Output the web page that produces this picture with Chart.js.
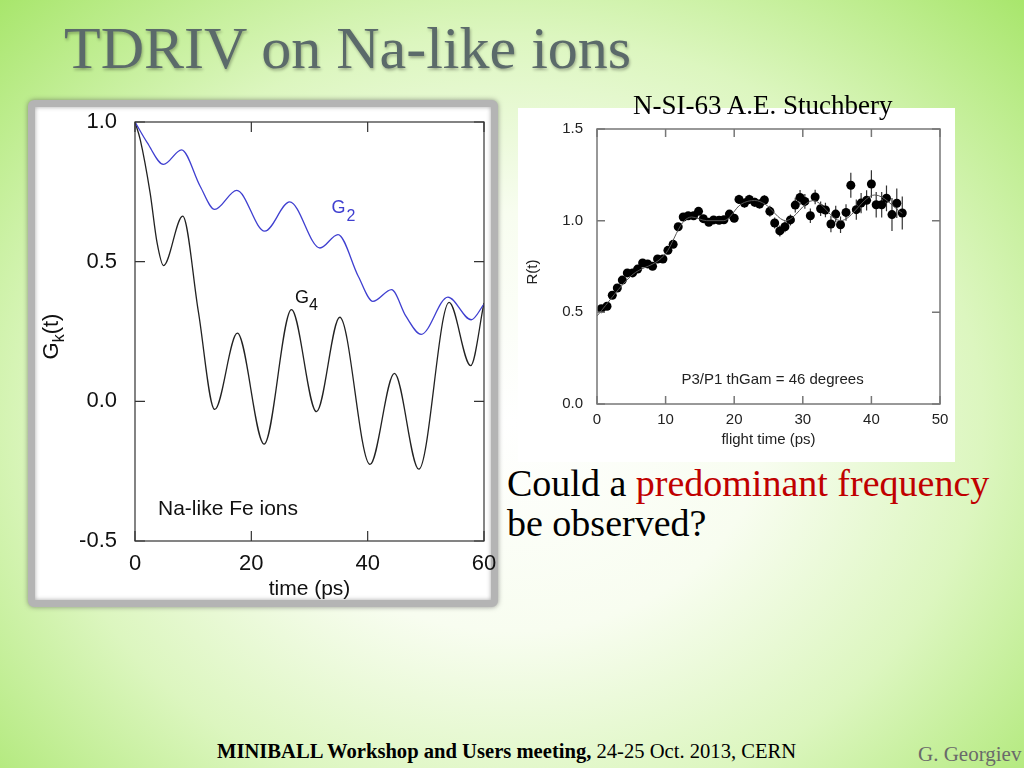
<!DOCTYPE html>
<html>
<head>
<meta charset="utf-8">
<script src="https://cdn.jsdelivr.net/npm/chart.js@4.4.1/dist/chart.umd.min.js"></script>
<style>
  html, body { margin: 0; padding: 0; }
  body {
    width: 1024px; height: 768px; position: relative; overflow: hidden;
    background: radial-gradient(ellipse farthest-corner at 50% 55%, #ffffff 0%, #f8fdf0 35%, #dcf6bf 65%, #a8e66c 100%);
    font-family: 'Liberation Serif', 'Times New Roman', serif;
  }
  .abs { position: absolute; white-space: nowrap; }
  #title { left: 64px; top: 13px; font-size: 60px; color: #5b6a6a; text-shadow: 1px 2px 3px rgba(0,0,0,0.3); line-height: 70px; }
  #leftBox { left: 28px; top: 100px; width: 456px; height: 493px; background: #fff; border: 7px solid #b4b4b4; border-radius: 6px; box-shadow: 0 0 5px rgba(80,80,80,0.6), inset 0 0 4px rgba(80,80,80,0.5); }
  #rightBox { left: 518px; top: 108px; width: 437px; height: 354px; background: #fff; }
  #cvL { left: 30px; top: 102px; }
  #cvR { left: 518px; top: 108px; }
  #ref { left: 633px; top: 90px; font-size: 27px; color: #000; line-height: 30px; }
  #q { left: 507px; top: 463px; font-size: 38px; color: #000; line-height: 40px; }
  #q span { color: #c00000; }
  #foot { left: 217px; top: 739px; font-size: 20.6px; color: #000; line-height: 24px; }
  #auth { left: 918px; top: 742px; font-size: 21px; color: #6a6a6a; line-height: 24px; }
</style>
</head>
<body>
<div id="title" class="abs">TDRIV on Na-like ions</div>
<div id="leftBox" class="abs"></div>
<div id="rightBox" class="abs"></div>
<canvas id="cvL" class="abs" width="470" height="500"></canvas>
<canvas id="cvR" class="abs" width="437" height="354"></canvas>
<div id="ref" class="abs">N-SI-63 A.E. Stuchbery</div>
<div id="q" class="abs">Could a <span>predominant frequency</span><br>be observed?</div>
<div id="foot" class="abs"><b>MINIBALL Workshop and Users meeting,</b> 24-25 Oct. 2013, CERN</div>
<div id="auth" class="abs">G. Georgiev</div>

<script>
// ---------- Left chart data: Gk(t) ----------
const g2Times = [0, 2.1, 4.9, 8.0, 11.2, 13.7, 17.5, 22.3, 26.6, 31.8, 34.9, 38.4, 40.9, 44.1, 46.6, 49.2, 53.8, 57.8, 60];
const g2Values = [1.0, 0.926, 0.848, 0.900, 0.770, 0.687, 0.755, 0.609, 0.714, 0.549, 0.597, 0.447, 0.358, 0.400, 0.304, 0.240, 0.373, 0.292, 0.348];
const g4Times = [0, 0.9, 2.6, 3.8, 4.9, 8.2, 10.9, 13.7, 17.6, 22.2, 26.9, 31.2, 35.2, 40.4, 44.6, 48.8, 54.0, 57.7, 60];
const g4Values = [1.0, 0.937, 0.746, 0.567, 0.486, 0.663, 0.320, -0.029, 0.244, -0.153, 0.328, -0.037, 0.301, -0.226, 0.100, -0.243, 0.354, 0.128, 0.352];
const leftXTicks = [0, 20, 40, 60];
const leftYTicks = [-0.5, 0.0, 0.5, 1.0];

// ---------- Right chart data: R(t) ----------
const rTimes = [0.63, 1.46, 2.23, 2.96, 3.69, 4.42, 5.19, 5.92, 6.65, 7.38, 8.1, 8.83, 9.61, 10.34, 11.1,
  11.84, 12.57, 13.3, 14.08, 14.8, 15.5, 16.3, 17.0, 17.8, 18.5, 19.3, 20.0, 20.7, 21.5, 22.2,
  23.0, 23.7, 24.4, 25.2, 25.9, 26.65, 27.4, 28.2, 28.9, 29.6, 30.3, 31.1, 31.8, 32.6, 33.3,
  34.1, 34.8, 35.5, 36.3, 37.0, 37.8, 38.5, 39.3, 40.0, 40.7, 41.5, 42.2, 43.0, 43.7, 44.5];
const rValues = [0.52, 0.533, 0.593, 0.633, 0.676, 0.715, 0.715, 0.736, 0.769, 0.764, 0.751, 0.791, 0.791, 0.838, 0.871,
  0.967, 1.02, 1.027, 1.027, 1.051, 1.011, 0.991, 1.004, 1.002, 1.005, 1.036, 1.013, 1.116, 1.096, 1.116,
  1.10, 1.091, 1.113, 1.051, 0.987, 0.944, 0.967, 1.004, 1.085, 1.127, 1.105, 1.027, 1.129, 1.065, 1.058,
  0.982, 1.036, 0.978, 1.045, 1.193, 1.06, 1.096, 1.111, 1.20, 1.087, 1.087, 1.122, 1.033, 1.095, 1.042];
const rErrors = [0.012, 0.012, 0.012, 0.012, 0.012, 0.012, 0.012, 0.012, 0.012, 0.012, 0.012, 0.012, 0.012, 0.012, 0.012,
  0.018, 0.018, 0.018, 0.018, 0.018, 0.02, 0.02, 0.02, 0.02, 0.02, 0.02, 0.02, 0.025, 0.025, 0.025,
  0.025, 0.025, 0.025, 0.03, 0.03, 0.03, 0.03, 0.03, 0.04, 0.04, 0.04, 0.04, 0.04, 0.04, 0.04,
  0.045, 0.045, 0.045, 0.045, 0.068, 0.055, 0.055, 0.055, 0.075, 0.07, 0.07, 0.07, 0.09, 0.08, 0.09];
const fitTimes = [0, 5, 10, 12.5, 13.8, 16, 18.5, 21, 23, 24.5, 27.5, 31.5, 35.5, 40.5, 44.5];
const fitValues = [0.48, 0.70, 0.82, 0.99, 1.02, 1.0, 1.0, 1.09, 1.11, 1.09, 1.0, 1.11, 1.0, 1.14, 1.04];
const rightXTicks = [0, 10, 20, 30, 40, 50];
const rightYTicks = [0.0, 0.5, 1.0, 1.5];

const SANS = "'Liberation Sans', Arial, Helvetica, sans-serif";
Chart.defaults.font.family = SANS;
Chart.defaults.animation = false;

function pairs(xs, ys) { return xs.map((x, i) => ({ x: x, y: ys[i] })); }
function noPad(s) { s.paddingTop = 0; s.paddingBottom = 0; s.paddingLeft = 0; s.paddingRight = 0; }

// Frame with inward ticks on all four sides
function framePlugin(xTicks, yTicks, len, color, width) {
  return {
    id: 'frame',
    afterDraw(chart) {
      const { ctx, chartArea: a, scales } = chart;
      ctx.save();
      ctx.strokeStyle = color; ctx.lineWidth = width;
      ctx.strokeRect(a.left, a.top, a.right - a.left, a.bottom - a.top);
      ctx.beginPath();
      xTicks.forEach(v => {
        const px = scales.x.getPixelForValue(v);
        ctx.moveTo(px, a.bottom); ctx.lineTo(px, a.bottom - len);
        ctx.moveTo(px, a.top); ctx.lineTo(px, a.top + len);
      });
      yTicks.forEach(v => {
        const py = scales.y.getPixelForValue(v);
        ctx.moveTo(a.left, py); ctx.lineTo(a.left + len, py);
        ctx.moveTo(a.right, py); ctx.lineTo(a.right - len, py);
      });
      ctx.stroke();
      ctx.restore();
    }
  };
}

// ---------- Left chart ----------
const leftLabels = {
  id: 'leftLabels',
  afterDraw(chart) {
    const { ctx, chartArea: a, scales: { x, y } } = chart;
    ctx.save();
    ctx.textBaseline = 'alphabetic';
    // G2
    ctx.fillStyle = '#3f3fd0';
    ctx.font = '18px ' + SANS;
    let px = x.getPixelForValue(33.8), py = y.getPixelForValue(0.675);
    ctx.fillText('G', px, py);
    let w = ctx.measureText('G').width;
    ctx.font = '16px ' + SANS;
    ctx.fillText('2', px + w + 1, py + 8);
    // G4
    ctx.fillStyle = '#111';
    ctx.font = '18px ' + SANS;
    px = x.getPixelForValue(27.5); py = y.getPixelForValue(0.353);
    ctx.fillText('G', px, py);
    w = ctx.measureText('G').width;
    ctx.font = '16px ' + SANS;
    ctx.fillText('4', px + w + 0, py + 7);
    // Na-like Fe ions
    ctx.font = '21px ' + SANS;
    ctx.fillText('Na-like Fe ions', x.getPixelForValue(3.95), y.getPixelForValue(-0.407));
    // x title
    ctx.textAlign = 'center';
    ctx.font = '21px ' + SANS;
    ctx.fillText('time (ps)', (a.left + a.right) / 2, a.bottom + 54);
    // y title G_k(t) rotated
    ctx.translate(20, (a.top + a.bottom) / 2 + 5);
    ctx.rotate(-Math.PI / 2);
    ctx.textAlign = 'left';
    ctx.font = '22px ' + SANS;
    const wG = ctx.measureText('G').width;
    ctx.font = '16px ' + SANS;
    const wk = ctx.measureText('k').width;
    ctx.font = '22px ' + SANS;
    const wt = ctx.measureText('(t)').width;
    const total = wG + wk + wt;
    let cx = -total / 2;
    ctx.fillText('G', cx, 8);
    ctx.font = '16px ' + SANS;
    ctx.fillText('k', cx + wG, 14);
    ctx.font = '22px ' + SANS;
    ctx.fillText('(t)', cx + wG + wk, 8);
    ctx.restore();
  }
};

new Chart(document.getElementById('cvL'), {
  type: 'line',
  data: {
    datasets: [
      { label: 'G2', data: pairs(g2Times, g2Values), borderColor: '#3f3fd0', borderWidth: 1.3, pointRadius: 0, cubicInterpolationMode: 'monotone', fill: false },
      { label: 'G4', data: pairs(g4Times, g4Values), borderColor: '#222', borderWidth: 1.3, pointRadius: 0, cubicInterpolationMode: 'monotone', fill: false }
    ]
  },
  options: {
    responsive: false, devicePixelRatio: 1,
    layout: { padding: { top: 20, right: 16, left: 0, bottom: 0 } },
    plugins: { legend: { display: false }, tooltip: { enabled: false } },
    scales: {
      x: {
        type: 'linear', min: 0, max: 60,
        afterBuildTicks: s => { s.ticks = leftXTicks.map(v => ({ value: v })); },
        afterFit: s => { s.height = 61; noPad(s); },
        grid: { display: false, drawTicks: false }, border: { display: false },
        ticks: { padding: 10, color: '#111', font: { size: 22 }, maxRotation: 0, callback: v => String(v) }
      },
      y: {
        type: 'linear', min: -0.5, max: 1.0,
        afterBuildTicks: s => { s.ticks = leftYTicks.map(v => ({ value: v })); },
        afterFit: s => { s.width = 105; noPad(s); },
        grid: { display: false, drawTicks: false }, border: { display: false },
        ticks: { padding: 18, color: '#111', font: { size: 22 }, callback: v => v.toFixed(1) }
      }
    }
  },
  plugins: [framePlugin(leftXTicks, leftYTicks, 10, '#333', 1.2), leftLabels]
});

// ---------- Right chart ----------
const errorBars = {
  id: 'errorBars',
  beforeDatasetsDraw(chart) {
    const { ctx, scales: { x, y } } = chart;
    ctx.save();
    ctx.strokeStyle = '#333'; ctx.lineWidth = 1.2;
    ctx.beginPath();
    rTimes.forEach((t, i) => {
      const px = x.getPixelForValue(t);
      ctx.moveTo(px, y.getPixelForValue(rValues[i] - rErrors[i]));
      ctx.lineTo(px, y.getPixelForValue(rValues[i] + rErrors[i]));
    });
    ctx.stroke();
    ctx.restore();
  }
};
const rightLabels = {
  id: 'rightLabels',
  afterDraw(chart) {
    const { ctx, chartArea: a, scales: { x, y } } = chart;
    ctx.save();
    ctx.fillStyle = '#222';
    ctx.textAlign = 'center';
    ctx.textBaseline = 'middle';
    ctx.font = '15px ' + SANS;
    ctx.fillText('P3/P1 thGam = 46 degrees', x.getPixelForValue(25.6), y.getPixelForValue(0.13));
    ctx.fillText('flight time (ps)', (a.left + a.right) / 2, a.bottom + 36);
    ctx.translate(15, y.getPixelForValue(0.72));
    ctx.rotate(-Math.PI / 2);
    ctx.fillText('R(t)', 0, 0);
    ctx.restore();
  }
};

new Chart(document.getElementById('cvR'), {
  type: 'line',
  data: {
    datasets: [
      { label: 'fit', data: pairs(fitTimes, fitValues), borderColor: '#555', borderWidth: 1, pointRadius: 0, cubicInterpolationMode: 'monotone', fill: false },
      { label: 'R', data: pairs(rTimes, rValues), showLine: false, pointRadius: 4.5, pointBackgroundColor: '#000', pointBorderColor: '#000', pointBorderWidth: 0 }
    ]
  },
  options: {
    responsive: false, devicePixelRatio: 1,
    layout: { padding: { top: 21, right: 15, left: 0, bottom: 0 } },
    plugins: { legend: { display: false }, tooltip: { enabled: false } },
    scales: {
      x: {
        type: 'linear', min: 0, max: 50,
        afterBuildTicks: s => { s.ticks = rightXTicks.map(v => ({ value: v })); },
        afterFit: s => { s.height = 58; noPad(s); },
        grid: { display: false, drawTicks: false }, border: { display: false },
        ticks: { padding: 7, color: '#222', font: { size: 15 }, maxRotation: 0, callback: v => String(v) }
      },
      y: {
        type: 'linear', min: 0, max: 1.5,
        afterBuildTicks: s => { s.ticks = rightYTicks.map(v => ({ value: v })); },
        afterFit: s => { s.width = 79; noPad(s); },
        grid: { display: false, drawTicks: false }, border: { display: false },
        ticks: { padding: 14, color: '#222', font: { size: 15 }, callback: v => v.toFixed(1) }
      }
    }
  },
  plugins: [framePlugin(rightXTicks, rightYTicks, 8, '#777', 1.5), errorBars, rightLabels]
});
</script>
</body>
</html>
